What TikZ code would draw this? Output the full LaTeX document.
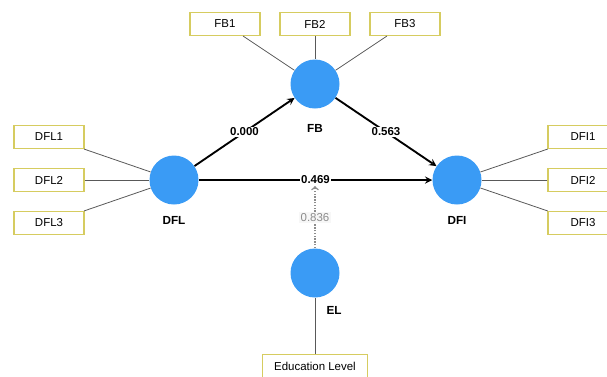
\documentclass[tikz,border=0pt]{standalone}
\usepackage{fontspec}
\setmainfont{Liberation Sans}
\usetikzlibrary{shapes,arrows,positioning,fit}
\definecolor{lvblue}{RGB}{58,155,245}
\definecolor{mvyellow}{RGB}{214,204,96}
\begin{document}
\begin{tikzpicture}[
    x=0.75pt, y=-0.75pt,
    construct/.style={circle, fill=lvblue, minimum size=36.75pt, inner sep=0pt},
    indicator/.style={rectangle, draw=mvyellow, line width=0.8pt, fill=white, minimum width=52.5pt, minimum height=17.25pt, inner sep=0pt, font=\fontsize{8.6}{10}\selectfont},
    lvname/.style={font=\bfseries\fontsize{8.8}{10}\selectfont},
    loading/.style={draw=black!65, line width=0.6pt},
    arrow/.style={line width=1.4pt,->,>=stealth},
    coef/.style={fill=white, inner sep=1pt, font=\bfseries\fontsize{8.6}{10}\selectfont}
]
    \useasboundingbox (0,0) rectangle (607,376);
    \clip (0,0) rectangle (607,376);

    % latent variables
    \node[construct] (fb) at (315,84) {};
    \node[construct] (dfl) at (174,180) {};
    \node[construct] (dfi) at (457,180) {};
    \node[construct] (el) at (315,273) {};

    \node[lvname] (fbname) at (315,128) {FB};
    \node[lvname] (dflname) at (174,220) {DFL};
    \node[lvname] (dfiname) at (457,220) {DFI};
    \node[lvname] (elname) at (334,310) {EL};

    % indicators
    \node[indicator] (fb1) at (225,24) {FB1};
    \node[indicator] (fb2) at (315,24) {FB2};
    \node[indicator] (fb3) at (405,24) {FB3};
    \node[indicator] (dfl1) at (49,137) {DFL1};
    \node[indicator] (dfl2) at (49,180) {DFL2};
    \node[indicator] (dfl3) at (49,223) {DFL3};
    \node[indicator] (dfi1) at (583,137) {DFI1};
    \node[indicator] (dfi2) at (583,180) {DFI2};
    \node[indicator] (dfi3) at (583,223) {DFI3};
    \node[indicator, minimum width=78.75pt] (edu) at (315,366) {Education Level};

    \draw[loading] (fb1) -- (fb);
    \draw[loading] (fb2) -- (fb);
    \draw[loading] (fb3) -- (fb);
    \draw[loading] (dfl1) -- (dfl);
    \draw[loading] (dfl2) -- (dfl);
    \draw[loading] (dfl3) -- (dfl);
    \draw[loading] (dfi1) -- (dfi);
    \draw[loading] (dfi2) -- (dfi);
    \draw[loading] (dfi3) -- (dfi);
    \draw[loading] (edu) -- (el);

    % structural paths
    \draw[arrow] (dfl) -- node[coef] {0.000} (fb);
    \draw[arrow] (fb) -- node[coef] {0.563} (dfi);
    \draw[arrow] (dfl) -- node[coef] (pathlabel) {0.469} (dfi);

    % moderating effect
    \coordinate (hit) at (315,186);
    \draw[densely dotted, line width=1.1pt, black!45, ->, >=to] (el) -- node[fill=black!3, inner sep=1pt, text=black!45, font=\fontsize{8.6}{10}\selectfont] {0.836} (hit);
\end{tikzpicture}
\end{document}
